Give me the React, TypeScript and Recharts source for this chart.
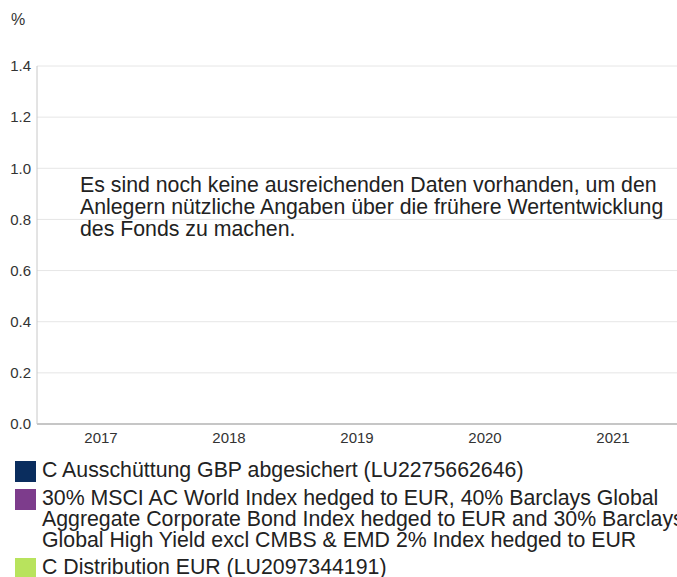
import { Bar, BarChart, CartesianGrid, XAxis, YAxis } from "recharts";

const years = ["2017", "2018", "2019", "2020", "2021"];
// no performance data published yet -> every value is empty
const fundGbp: (number | null)[] = [null, null, null, null, null];
const benchmark: (number | null)[] = [null, null, null, null, null];
const fundEur: (number | null)[] = [null, null, null, null, null];
const yTicks = [0, 0.2, 0.4, 0.6, 0.8, 1.0, 1.2, 1.4];

const seriesNames = [
  "C Ausschüttung GBP abgesichert (LU2275662646)",
  "30% MSCI AC World Index hedged to EUR, 40% Barclays Global Aggregate Corporate Bond Index hedged to EUR and 30% Barclays Global High Yield excl CMBS & EMD 2% Index hedged to EUR",
  "C Distribution EUR (LU2097344191)",
];
const seriesColors = ["#0a2d5e", "#7d3c8c", "#b8e35d"];

const noDataText =
  "Es sind noch keine ausreichenden Daten vorhanden, um den Anlegern nützliche Angaben über die frühere Wertentwicklung des Fonds zu machen.";

const font = '"Liberation Sans", Arial, sans-serif';

const data = years.map((year, i) => ({
  year,
  fundGbp: fundGbp[i],
  benchmark: benchmark[i],
  fundEur: fundEur[i],
}));
const keys = ["fundGbp", "benchmark", "fundEur"];

export default function App() {
  return (
    <div
      style={{
        position: "relative",
        width: 677,
        height: 577,
        overflow: "hidden",
        background: "#fff",
        fontFamily: font,
        color: "#222",
      }}
    >
      <style>{`body{margin:0}`}</style>
      <div style={{ position: "absolute", left: 11, top: 11, fontSize: 16, lineHeight: "18px", color: "#333" }}>%</div>
      <BarChart
        width={677}
        height={450}
        data={data}
        margin={{ top: 66, right: 0, bottom: 0, left: 0 }}
        barCategoryGap="20%"
      >
        <CartesianGrid stroke="#e6e6e6" vertical={false} />
        <XAxis
          dataKey="year"
          height={26}
          tickLine={false}
          stroke="#999"
          tick={{ fill: "#333", fontSize: 15, fontFamily: font }}
        />
        <YAxis
          width={37}
          domain={[0, 1.4]}
          ticks={yTicks}
          allowDataOverflow
          tickLine={false}
          tickSize={4}
          tickMargin={2}
          stroke="#c8c8c8"
          tickFormatter={(v) => Number(v).toFixed(1)}
          tick={{ fill: "#333", fontSize: 15, fontFamily: font }}
        />
        {keys.map((k, i) => (
          <Bar key={k} dataKey={k} name={seriesNames[i]} fill={seriesColors[i]} isAnimationActive={false} />
        ))}
      </BarChart>
      <div
        style={{
          position: "absolute",
          left: 80,
          top: 174,
          width: 600,
          fontSize: 21.3,
          lineHeight: "22px",
        }}
      >
        {noDataText}
      </div>
      <div style={{ position: "absolute", left: 15, top: 460, width: 700 }}>
        {seriesNames.map((name, i) => (
          <div key={name} style={{ display: "flex", alignItems: "flex-start", marginBottom: 6 }}>
            <span
              style={{
                flex: "0 0 21px",
                height: 21,
                marginTop: 1,
                background: seriesColors[i],
              }}
            />
            <span style={{ marginLeft: 6, fontSize: 21.3, lineHeight: "21px", width: 670 }}>{name}</span>
          </div>
        ))}
      </div>
    </div>
  );
}
